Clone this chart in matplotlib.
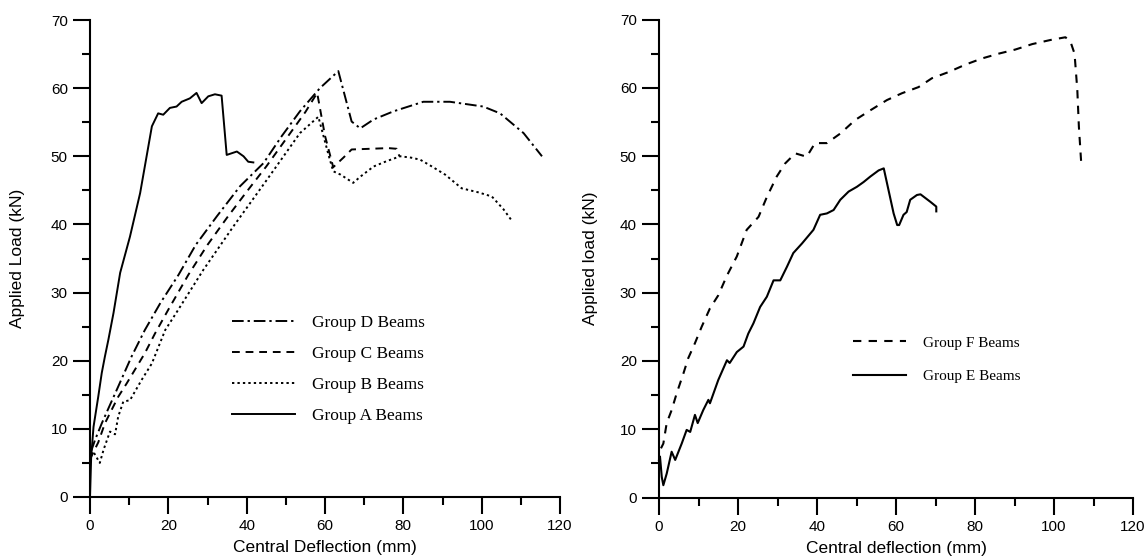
import matplotlib
matplotlib.use("Agg")
import matplotlib.pyplot as plt
from matplotlib.ticker import MultipleLocator

# --- left panel: groups A-D ---
a_x = [0, 0.3, 0.9, 2.1, 3.0, 3.8, 4.7, 6.0, 7.7, 10.2, 12.8, 15.8, 17.4, 18.7, 20.4,
       22.1, 23.4, 25.5, 27.2, 28.5, 30.2, 31.9, 33.6, 34.9, 37.5, 39.2, 40.4, 41.7]
a_y = [0, 5.9, 10.3, 14.7, 18.2, 20.6, 23.1, 27.0, 32.9, 38.2, 44.6, 54.4, 56.3, 56.1, 57.1,
       57.3, 58.0, 58.5, 59.3, 57.8, 58.8, 59.1, 58.9, 50.2, 50.7, 50.0, 49.2, 49.1]

b_x = [0, 1.0, 2.5, 3.5, 5.1, 6.4, 7.2, 8.5, 10.2, 13.2, 15.8, 19.2, 22.0, 28.9, 36.6,
       45.1, 53.6, 58.3, 59.6, 61.0, 62.1, 64.0, 67.2, 69.0, 72.4, 75.8, 79.2, 82.0,
       84.3, 87.3, 90.7, 94.9, 99.2, 102.6, 105.6, 107.5]
b_y = [6.0, 6.5, 5.0, 7.0, 9.6, 9.2, 11.8, 14.0, 14.2, 17.2, 19.6, 24.5, 27.0, 33.3, 39.7,
       46.5, 53.4, 55.8, 53.0, 50.0, 47.8, 47.3, 46.1, 47.0, 48.5, 49.3, 50.0, 49.8,
       49.5, 48.5, 47.3, 45.3, 44.7, 44.1, 42.2, 40.7]

c_x = [0, 0.8, 2.1, 3.8, 5.1, 7.2, 9.4, 14.0, 16.6, 20.0, 25.1, 30.0, 35.0, 40.0, 45.0,
       50.0, 55.0, 58.0, 60.0, 62.1, 64.7, 66.8, 76.2, 78.3, 79.0]
c_y = [5.5, 6.5, 8.0, 10.8, 12.3, 14.7, 16.7, 21.1, 24.0, 27.5, 32.6, 37.0, 41.0, 44.8, 48.5,
       52.5, 56.5, 59.3, 53.0, 48.4, 49.8, 51.0, 51.2, 51.1, 50.0]

d_x = [0, 0.4, 1.3, 3.0, 4.7, 7.2, 10.6, 14.0, 18.0, 22.6, 27.0, 32.4, 38.3, 44.3, 49.0,
       53.6, 58.7, 63.4, 66.8, 69.0, 72.4, 77.5, 85.1, 91.9, 100.4, 104.7, 110.7, 115.4]
d_y = [7.0, 6.9, 8.4, 10.8, 13.0, 16.2, 20.6, 24.5, 28.5, 32.6, 37.0, 41.2, 45.6, 49.0, 53.0,
       56.6, 60.0, 62.5, 55.1, 54.1, 55.4, 56.6, 58.0, 58.0, 57.3, 56.3, 53.4, 50.0]

# --- right panel: groups E-F ---
e_x = [0, 0.25, 0.7, 1.1, 1.95, 3.2, 4.1, 5.75, 7.0, 7.9, 9.1, 9.8, 11.2, 12.5, 12.9,
       15.0, 17.2, 17.9, 19.7, 21.4, 22.6, 23.9, 25.6, 27.3, 29.0, 30.7, 32.4, 34.0,
       36.2, 39.1, 40.8, 42.5, 44.2, 45.9, 48.0, 50.1, 51.8, 53.5, 55.6, 56.9, 59.4,
       60.3, 60.8, 61.9, 62.7, 63.6, 65.3, 66.2, 68.7, 70.2, 70.2]
e_y = [5.5, 6.0, 3.0, 1.8, 3.5, 6.7, 5.5, 7.9, 9.9, 9.6, 12.1, 10.9, 12.8, 14.3, 13.8,
       17.2, 20.1, 19.7, 21.3, 22.1, 24.0, 25.5, 27.9, 29.4, 31.8, 31.8, 33.8, 35.8,
       37.2, 39.2, 41.4, 41.6, 42.1, 43.6, 44.8, 45.5, 46.2, 47.0, 47.9, 48.2, 41.6,
       39.9, 39.9, 41.4, 41.8, 43.6, 44.3, 44.4, 43.3, 42.6, 41.9]

f_x = [0.5, 1.1, 1.95, 3.2, 4.5, 6.2, 7.4, 9.1, 10.8, 12.9, 15.0, 17.2, 19.7, 22.2, 25.2,
       27.3, 29.8, 31.9, 34.5, 37.4, 39.5, 42.5, 45.9, 49.7, 53.5, 57.7, 61.5, 65.7,
       69.1, 73.3, 77.6, 81.8, 86.0, 90.2, 94.5, 99.1, 102.9, 104.2, 105.2, 105.9,
       106.3, 106.9]
f_y = [7.2, 7.9, 10.9, 12.8, 15.3, 18.2, 20.4, 22.6, 25.0, 27.7, 29.6, 32.5, 35.3, 39.2, 41.1,
       44.0, 47.0, 48.9, 50.4, 49.9, 51.9, 51.9, 53.3, 55.3, 56.7, 58.2, 59.2, 60.1,
       61.4, 62.3, 63.4, 64.3, 65.0, 65.6, 66.4, 67.0, 67.4, 66.7, 65.0, 59.7,
       54.3, 48.9]

left_labels = ["Group D Beams", "Group C Beams", "Group B Beams", "Group A Beams"]
right_labels = ["Group F Beams", "Group E Beams"]

plt.rcParams["font.family"] = ["Liberation Sans", "DejaVu Sans"]

W, H = 1147, 556
fig = plt.figure(figsize=(W / 100, H / 100), dpi=100)
ax1 = fig.add_axes([90 / W, 1 - 497 / H, 470 / W, 477 / H])
ax2 = fig.add_axes([659 / W, 1 - 497.5 / H, 474 / W, 478 / H])

lw = 1.4
ax1.plot(d_x, d_y, color="black", lw=lw, dashes=(6, 2, 1.2, 2), clip_on=False, label=left_labels[0])
ax1.plot(c_x, c_y, color="black", lw=lw, dashes=(4, 3), clip_on=False, label=left_labels[1])
ax1.plot(b_x, b_y, color="black", lw=lw, dashes=(1.2, 1.6), clip_on=False, label=left_labels[2])
ax1.plot(a_x, a_y, color="black", lw=lw, clip_on=False, label=left_labels[3])

ax2.plot(f_x, f_y, color="black", lw=1.5, dashes=(4, 3.5), clip_on=False, label=right_labels[0])
ax2.plot(e_x, e_y, color="black", lw=1.5, clip_on=False, label=right_labels[1])

for ax in (ax1, ax2):
    ax.set_xlim(0, 120)
    ax.set_ylim(0, 70)
    ax.spines["top"].set_visible(False)
    ax.spines["right"].set_visible(False)
    for s in ("left", "bottom"):
        ax.spines[s].set_linewidth(1.5)
    ax.xaxis.set_major_locator(MultipleLocator(20))
    ax.xaxis.set_minor_locator(MultipleLocator(10))
    ax.yaxis.set_major_locator(MultipleLocator(10))
    ax.yaxis.set_minor_locator(MultipleLocator(5))
    ax.tick_params(which="major", direction="out", length=12, width=1.5, labelsize=11, pad=4)
    ax.tick_params(which="minor", direction="out", length=6, width=1.5)

ax1.set_xlabel("Central Deflection (mm)", fontsize=12.5)
ax1.set_ylabel("Applied Load (kN)", fontsize=12.5)
ax2.set_xlabel("Central deflection (mm)", fontsize=12.5)
ax2.set_ylabel("Applied load (kN)", fontsize=12.5)
ax1.xaxis.set_label_coords(0.5, -0.09)
ax2.xaxis.set_label_coords(0.5, -0.09)
ax1.yaxis.set_label_coords(-0.138, 0.5)
ax2.yaxis.set_label_coords(-0.129, 0.5)

leg1 = ax1.legend(loc="upper left", bbox_to_anchor=(232 / W, 1 - 315 / H),
                  bbox_transform=fig.transFigure, frameon=False, borderpad=0,
                  borderaxespad=0, handlelength=3.6, handletextpad=1.0,
                  labelspacing=0.85, prop={"family": "Liberation Serif", "size": 12.5})
leg2 = ax2.legend(loc="upper left", bbox_to_anchor=(853 / W, 1 - 336 / H),
                  bbox_transform=fig.transFigure, frameon=False, borderpad=0,
                  borderaxespad=0, handlelength=3.5, handletextpad=1.05,
                  labelspacing=1.3, prop={"family": "Liberation Serif", "size": 11})

fig.savefig("out.png", dpi=100)
